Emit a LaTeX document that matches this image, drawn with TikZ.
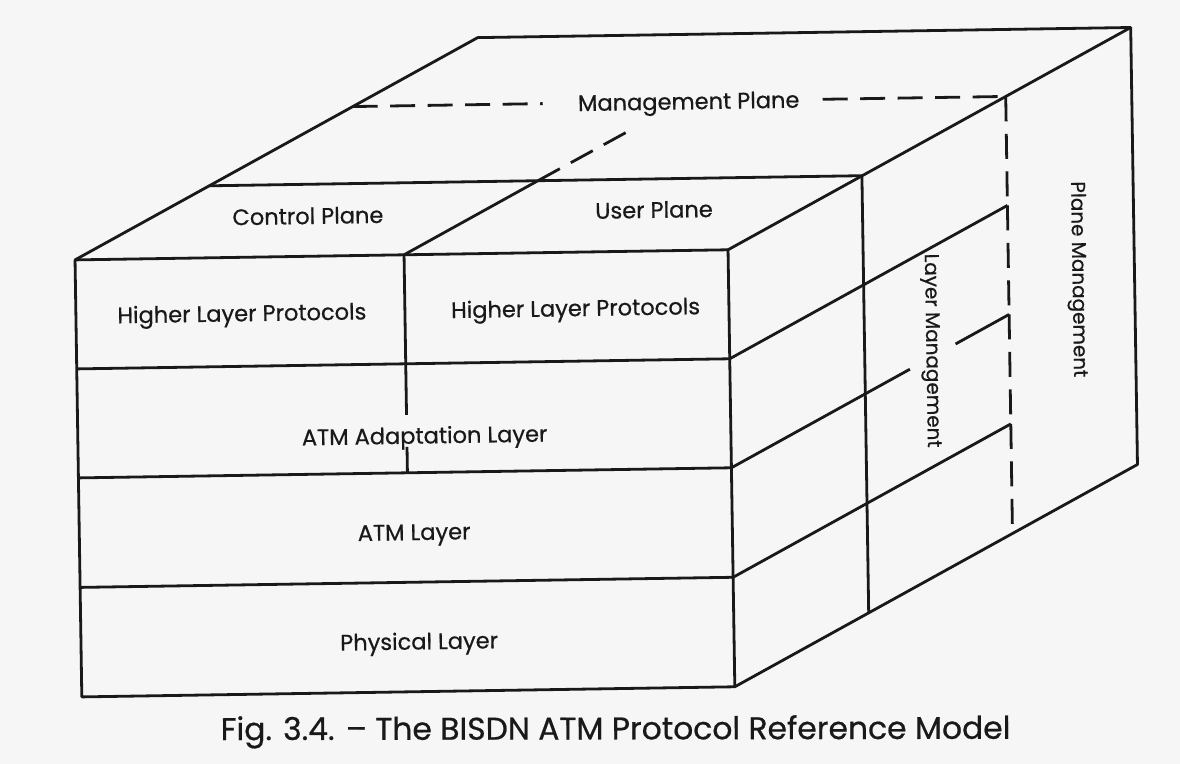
\documentclass[tikz,border=0pt]{standalone}
\usepackage{fontspec}
\setmainfont{Poppins}[FakeBold=0.6]
\usetikzlibrary{calc}
\definecolor{paper}{RGB}{246,246,246}
\definecolor{ink}{RGB}{25,25,25}
\begin{document}
\begin{tikzpicture}[x={(1bp,0.0155bp)}, y={(0.0155bp,-1bp)},
  line width=2.8bp, line join=round, color=ink,
  hid/.style={dash pattern=on 25bp off 12.5bp},
  lbl/.style={font=\fontsize{22.6}{27}\selectfont, text=ink, inner sep=0pt, rotate=0.9},
  vlbl/.style={font=\fontsize{20}{25}\selectfont, text=ink, inner sep=0pt, rotate=-89.1},
  caplbl/.style={font=\fontsize{31.5}{38}\selectfont, text=ink, inner sep=0pt, rotate=0.1}]
\fill[paper] (0bp,0bp) rectangle (1180bp,-764bp);
\useasboundingbox (0bp,0bp) rectangle (1180bp,-764bp);
% corners
\coordinate (FTL) at (71,261);
\coordinate (FTR) at (724,261);
\coordinate (FBR) at (724,698);
\coordinate (FBL) at (71,698);
\coordinate (BTL) at (477,45);
\coordinate (BTR) at (1130,45);
\coordinate (BBR) at (1130,482);
\coordinate (CL) at (206,189);
\coordinate (CR) at (859,189);
\coordinate (CB) at (859,626);
\coordinate (ML) at (351,112);
\coordinate (MR) at (1004,112);
\coordinate (MB) at (1004,549);
\coordinate (MLe) at (541,112);
\coordinate (MRs) at (821,112);
% divider
\coordinate (DT) at (400,261);
\coordinate (DB) at (400,479);
\coordinate (DG1) at (400,421);
\coordinate (DG2) at (400,453);
\coordinate (DT1) at (535,189);
\coordinate (DT2) at (626,141);
% layer boundaries
\coordinate (A1) at (71,370);   \coordinate (B1) at (724,370);   \coordinate (R1) at (1004,221);
\coordinate (A2) at (71,479);   \coordinate (B2) at (724,479);   \coordinate (R2) at (1004,330);
\coordinate (A3) at (71,588.5); \coordinate (B3) at (724,588.5); \coordinate (R3) at (1004,439.5);
\coordinate (G1) at (904,383.2);
\coordinate (G2) at (950,358.7);
% outline
\draw (FTL) -- (FTR) -- (FBR) -- (FBL) -- cycle;
\draw (FTL) -- (BTL) -- (BTR) -- (BBR) -- (FBR);
\draw (FTR) -- (BTR);
\draw (CL) -- (CR) -- (CB);
% layers
\draw (A1) -- (B1) -- (R1);
\draw (A2) -- (B2) -- (G1);
\draw (G2) -- (R2);
\draw (A3) -- (B3) -- (R3);
% control/user divider
\draw (DT) -- (DG1);
\draw (DG2) -- (DB);
\draw (DT) -- (DT1);
\draw[hid] (DT1) -- (DT2);
% management plane (hidden)
\draw[hid] (ML) -- (MLe);
\draw[hid] (MRs) -- (MR);
\draw[hid] (MR) -- (R1);
\draw[hid] (R1) -- (R2);
\draw[hid] (R2) -- (R3);
\draw[hid] (R3) -- (MB);
% labels
\node[lbl, anchor=base] (mp) at (687,120) {Management Plane};
\node[lbl, anchor=base] (cp) at (304.5,228.8) {Control Plane};
\node[lbl, anchor=base] (up) at (650.6,228) {User Plane};
\node[lbl, anchor=base] (h1) at (237,325) {Higher Layer Protocols};
\node[lbl, anchor=base] (h2) at (570.7,325) {Higher Layer Protocols};
\node[lbl, anchor=base] (aal) at (417.8,450) {ATM Adaptation Layer};
\node[lbl, anchor=base] (atm) at (405.8,546.4) {ATM Layer};
\node[lbl, anchor=base] (phy) at (409.1,655.8) {Physical Layer};
\node[vlbl] (lm) at (925,365) {Layer Management};
\node[vlbl] (pm) at (1072.7,296) {Plane Management};
\node[caplbl, anchor=base] (cap) at (604,748.8) {Fig. 3.4. -- The BISDN ATM Protocol Reference Model};
\end{tikzpicture}
\end{document}
